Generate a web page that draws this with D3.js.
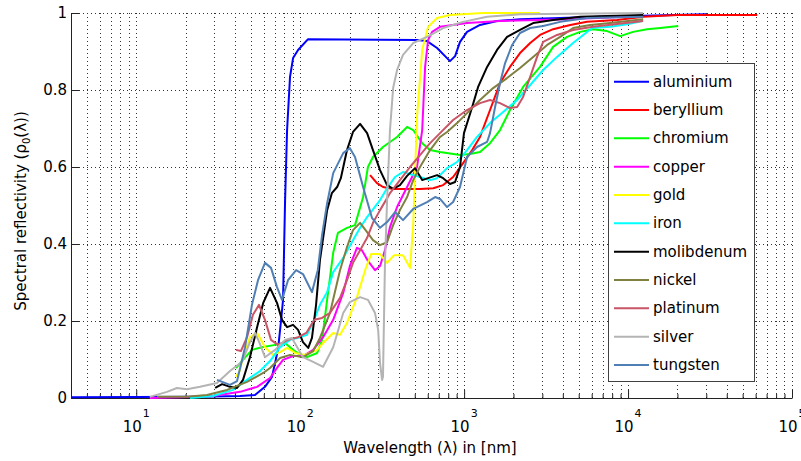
<!DOCTYPE html>
<html><head><meta charset="utf-8">
<script src="https://cdn.jsdelivr.net/npm/d3@7"></script>
<style>
body{margin:0;background:#fff}
svg{display:block}
text{font-family:"DejaVu Sans",Verdana,sans-serif;fill:#000}
</style>
</head><body>
<svg id="chart" width="801" height="461"></svg>
<script>
// ---------- data (wavelength in nm, spectral reflectivity) ----------
const metals = ["aluminium","beryllium","chromium","copper","gold","iron","molibdenum","nickel","platinum","silver","tungsten"];
const seriesColors = ["#0000ff","#ff0000","#00ff00","#ff00ff","#ffff00","#00ffff","#000000","#808040","#c95566","#b4b4b4","#4f7fb5"];

const aluminium = [[4,0.002],[24.5,0.003],[43,0.005],[53,0.008],[61,0.029],[67.3,0.055],[73.2,0.125],[76.4,0.2],[78.6,0.255],[80.9,0.514],[83.2,0.696],[86.7,0.834],[90.5,0.883],[97.1,0.904],[111.7,0.932],[516,0.93],[594,0.927],[684,0.909],[765,0.888],[820,0.875],[881,0.888],[944,0.925],[1042,0.951],[1250,0.969],[1588,0.979],[2193,0.984],[6761,0.99],[12360,0.993],[30000,0.997]];
const beryllium = [[267,0.579],[294,0.558],[320,0.548],[369,0.543],[449,0.543],[538,0.543],[648,0.545],[745,0.553],[857,0.574],[986,0.61],[1120,0.644],[1250,0.678],[1439,0.748],[1656,0.818],[1905,0.86],[2193,0.896],[2529,0.922],[2904,0.943],[3490,0.958],[4440,0.969],[5620,0.977],[8570,0.982],[12360,0.99],[19950,0.995],[61400,0.995]];
const chromium = [[40.6,0.078],[44.8,0.099],[50.8,0.125],[58.5,0.132],[70.3,0.138],[80.9,0.143],[90.5,0.125],[100,0.112],[110,0.106],[127,0.117],[136,0.151],[146,0.255],[159,0.377],[170,0.429],[193,0.442],[216,0.449],[242,0.522],[259,0.6],[278,0.626],[320,0.652],[390,0.678],[449,0.704],[489,0.696],[555,0.662],[620,0.644],[713,0.639],[944,0.631],[1086,0.634],[1250,0.639],[1439,0.662],[1656,0.696],[1905,0.748],[2290,0.808],[2904,0.86],[3490,0.912],[4246,0.938],[5100,0.951],[6120,0.958],[7450,0.953],[8954,0.94],[10740,0.951],[13060,0.958],[15700,0.961],[20230,0.966]];
const copper = [[12.1,0],[18.5,0.002],[29.4,0.005],[43,0.016],[54.6,0.029],[65.5,0.052],[72.2,0.078],[78.6,0.099],[90.5,0.109],[104,0.109],[120,0.125],[138,0.158],[159,0.203],[183,0.273],[201,0.343],[222,0.39],[238,0.384],[259,0.356],[286,0.332],[307,0.343],[329,0.384],[353,0.444],[390,0.496],[449,0.548],[516,0.6],[555,0.696],[578,0.86],[603,0.93],[638,0.951],[713,0.964],[1042,0.974],[1656,0.979],[4246,0.984],[12360,0.992]];
const gold = [[40.6,0.055],[43,0.073],[44.8,0.106],[49.4,0.158],[54.6,0.169],[61,0.132],[68.2,0.112],[75.4,0.119],[83.2,0.13],[93.1,0.117],[107,0.112],[127,0.125],[138,0.143],[159,0.169],[175,0.164],[193,0.195],[222,0.262],[249,0.332],[271,0.374],[307,0.374],[339,0.351],[374,0.371],[424,0.371],[468,0.338],[489,0.449],[516,0.73],[555,0.904],[603,0.964],[684,0.987],[820,0.995],[1306,1.0],[2904,1.0]];
const iron = [[21.3,0],[29.4,0.005],[38.9,0.021],[47.4,0.047],[56.9,0.07],[65.5,0.096],[75.4,0.132],[86.7,0.151],[100,0.158],[110,0.164],[120,0.197],[132,0.242],[146,0.275],[159,0.327],[183,0.364],[210,0.41],[232,0.442],[256,0.47],[307,0.514],[339,0.545],[379,0.574],[424,0.587],[538,0.574],[620,0.566],[684,0.571],[787,0.597],[906,0.613],[1042,0.644],[1199,0.678],[1439,0.714],[1730,0.743],[2105,0.774],[2529,0.813],[3034,0.852],[3690,0.886],[4620,0.922],[6040,0.961],[7780,0.964],[9870,0.971],[12190,0.979]];
const molibdenum = [[30.3,0.026],[33.4,0.036],[37.3,0.029],[41.2,0.026],[44.8,0.047],[49.4,0.106],[54.6,0.184],[59.5,0.247],[65.5,0.286],[72.2,0.247],[77.5,0.203],[83.2,0.184],[90.5,0.19],[97.1,0.177],[104,0.145],[112,0.13],[118,0.156],[125,0.242],[132,0.358],[146,0.488],[156,0.532],[168,0.548],[177,0.571],[193,0.644],[210,0.691],[232,0.712],[256,0.688],[278,0.644],[307,0.592],[339,0.553],[369,0.543],[406,0.553],[449,0.577],[502,0.597],[555,0.566],[684,0.579],[745,0.571],[820,0.556],[881,0.561],[944,0.6],[998,0.688],[1120,0.756],[1217,0.808],[1381,0.86],[1588,0.904],[1828,0.938],[2193,0.956],[2636,0.974],[3490,0.982],[5100,0.99],[12360,0.995]];
const nickel = [[13.4,0.003],[20.4,0.003],[27,0.008],[35.8,0.021],[47.4,0.042],[59.5,0.065],[65.5,0.078],[75.4,0.104],[86.7,0.112],[104,0.106],[120,0.122],[132,0.156],[152,0.221],[175,0.332],[193,0.392],[210,0.436],[232,0.455],[256,0.431],[278,0.41],[307,0.397],[339,0.405],[369,0.449],[406,0.488],[449,0.522],[489,0.566],[538,0.6],[620,0.644],[713,0.678],[787,0.691],[906,0.714],[1042,0.74],[1250,0.774],[1503,0.805],[1828,0.831],[2193,0.857],[2636,0.886],[3210,0.917],[3853,0.938],[4620,0.961],[5870,0.969],[7780,0.974],[12360,0.984]];
const platinum = [[40.6,0.125],[43.5,0.122],[47.4,0.158],[51.5,0.216],[56.1,0.242],[61,0.203],[66.4,0.151],[73.2,0.138],[84.3,0.151],[97.1,0.158],[109,0.169],[122,0.203],[136,0.208],[152,0.221],[175,0.26],[193,0.306],[210,0.351],[232,0.384],[256,0.416],[278,0.455],[307,0.488],[353,0.532],[406,0.566],[468,0.6],[538,0.631],[620,0.662],[713,0.688],[857,0.722],[1042,0.748],[1250,0.766],[1439,0.774],[1656,0.766],[1905,0.753],[2105,0.756],[2290,0.782],[2529,0.834],[2786,0.886],[3034,0.925],[3690,0.943],[4620,0.956],[6120,0.964],[12360,0.979]];
const silver = [[12.1,0.003],[15.4,0.016],[17.7,0.026],[20.4,0.023],[24.5,0.029],[31.1,0.039],[37.3,0.07],[44.2,0.094],[49.4,0.145],[53.1,0.169],[56.9,0.14],[61,0.106],[70.3,0.125],[80.9,0.151],[89,0.156],[104,0.106],[120,0.094],[138,0.081],[159,0.132],[183,0.221],[201,0.249],[232,0.262],[259,0.255],[286,0.221],[299,0.177],[307,0.091],[316,0.047],[320,0.055],[329,0.351],[339,0.514],[353,0.696],[369,0.805],[390,0.852],[424,0.891],[489,0.922],[594,0.938],[745,0.961],[986,0.977],[1381,0.99],[2193,0.997],[12360,1.0]];
const tungsten = [[31.1,0.047],[37.3,0.034],[41.2,0.044],[46.1,0.132],[50.8,0.242],[55.3,0.306],[61,0.351],[66.4,0.338],[72.2,0.288],[77.5,0.255],[84.3,0.306],[94.4,0.332],[104,0.322],[118,0.275],[128,0.332],[136,0.423],[146,0.506],[159,0.584],[183,0.636],[201,0.649],[216,0.626],[242,0.548],[274,0.468],[307,0.442],[339,0.457],[379,0.483],[424,0.462],[489,0.491],[594,0.509],[665,0.522],[713,0.517],[787,0.496],[857,0.509],[944,0.548],[1042,0.626],[1199,0.652],[1381,0.665],[1439,0.688],[1545,0.756],[1656,0.818],[1778,0.87],[1963,0.917],[2193,0.948],[2529,0.961],[3034,0.966],[3853,0.977],[5620,0.987],[12360,0.99]];

const xMajorTicks = [10,100,1000,10000,100000];
const xTickExponents = ["1","2","3","4","5"];
const yTicks = [0,0.2,0.4,0.6,0.8,1];
const yTickLabels = ["0","0.2","0.4","0.6","0.8","1"];
const xDomain = [4,100000];
const yDomain = [0,1];

const seriesData = [aluminium,beryllium,chromium,copper,gold,iron,molibdenum,nickel,platinum,silver,tungsten];

// ---------- layout ----------
const L = 71, R = 792, T = 13, B = 398;
const svg = d3.select("#chart");
const x = d3.scaleLog().domain(xDomain).range([L,R]);
const y = d3.scaleLinear().domain(yDomain).range([B,T]);
const allX = x.ticks();

// grid
const grid = svg.append("g").attr("stroke","#333").attr("stroke-width",1).attr("stroke-dasharray","1,3");
grid.selectAll("line.v").data(allX.filter(d => d > xDomain[0])).join("line")
  .attr("x1", d => Math.round(x(d))+0.5).attr("x2", d => Math.round(x(d))+0.5)
  .attr("y1", T).attr("y2", B);
grid.selectAll("line.h").data(yTicks.filter(d => d > 0)).join("line")
  .attr("x1", L).attr("x2", R)
  .attr("y1", d => Math.round(y(d))+0.5).attr("y2", d => Math.round(y(d))+0.5);

// axes
const xAxis = d3.axisBottom(x).tickValues(allX).tickSizeInner(-4).tickSizeOuter(0).tickFormat("");
const gx = svg.append("g").attr("transform",`translate(0,${B})`).call(xAxis);
gx.selectAll(".tick line").filter(d => xMajorTicks.includes(d)).attr("y2",-8);
gx.selectAll("path.domain, .tick line").attr("stroke","#222");

const majorLabels = svg.append("g").attr("font-size",15).attr("text-anchor","middle");
xMajorTicks.forEach((t,i) => {
  const tx = majorLabels.append("text").attr("x", x(t)).attr("y", 432);
  tx.append("tspan").text("10");
  tx.append("tspan").attr("dy",-15).attr("dx",1).attr("font-size",11).text(xTickExponents[i]);
});

const yAxis = d3.axisLeft(y).tickValues(yTicks).tickSizeInner(-8).tickSizeOuter(0).tickPadding(4)
  .tickFormat((d,i) => yTickLabels[i]);
const gy = svg.append("g").attr("transform",`translate(${L},0)`).call(yAxis);
gy.selectAll("path.domain, .tick line").attr("stroke","#222");
gy.selectAll("text").attr("font-size",15).attr("font-family",'"DejaVu Sans",Verdana,sans-serif').attr("fill","#000");

// axis titles
svg.append("text").attr("x",430).attr("y",453).attr("text-anchor","middle").attr("font-size",15)
  .text("Wavelength (λ) in [nm]");
const yt = svg.append("text").attr("transform","translate(26,211) rotate(-90)")
  .attr("text-anchor","middle").attr("font-size",15);
yt.append("tspan").text("Spectral reflectivity (ρ");
yt.append("tspan").attr("font-size",10).attr("dy",4).text("0");
yt.append("tspan").attr("dy",-4).text("(λ))");

// curves
svg.append("clipPath").attr("id","clip").append("rect")
  .attr("x",L).attr("y",T-5).attr("width",R-L).attr("height",B-T+6);
const line = d3.line().x(d => x(d[0])).y(d => y(d[1]));
svg.append("g").attr("clip-path","url(#clip)")
  .selectAll("path").data(seriesData).join("path")
  .attr("d", line).attr("fill","none")
  .attr("stroke",(d,i) => seriesColors[i]).attr("stroke-width",2)
  .attr("stroke-linejoin","round");

// legend
const lg = svg.append("g");
lg.append("rect").attr("x",608.5).attr("y",63.5).attr("width",146).attr("height",318)
  .attr("fill","#fff").attr("stroke","#404040");
metals.forEach((m,i) => {
  const cy = 81.7 + i*28.33;
  lg.append("line").attr("x1",614).attr("x2",649).attr("y1",cy).attr("y2",cy)
    .attr("stroke",seriesColors[i]).attr("stroke-width",2);
  lg.append("text").attr("x",653).attr("y",cy+5).attr("font-size",15).text(m);
});
</script>
</body></html>
